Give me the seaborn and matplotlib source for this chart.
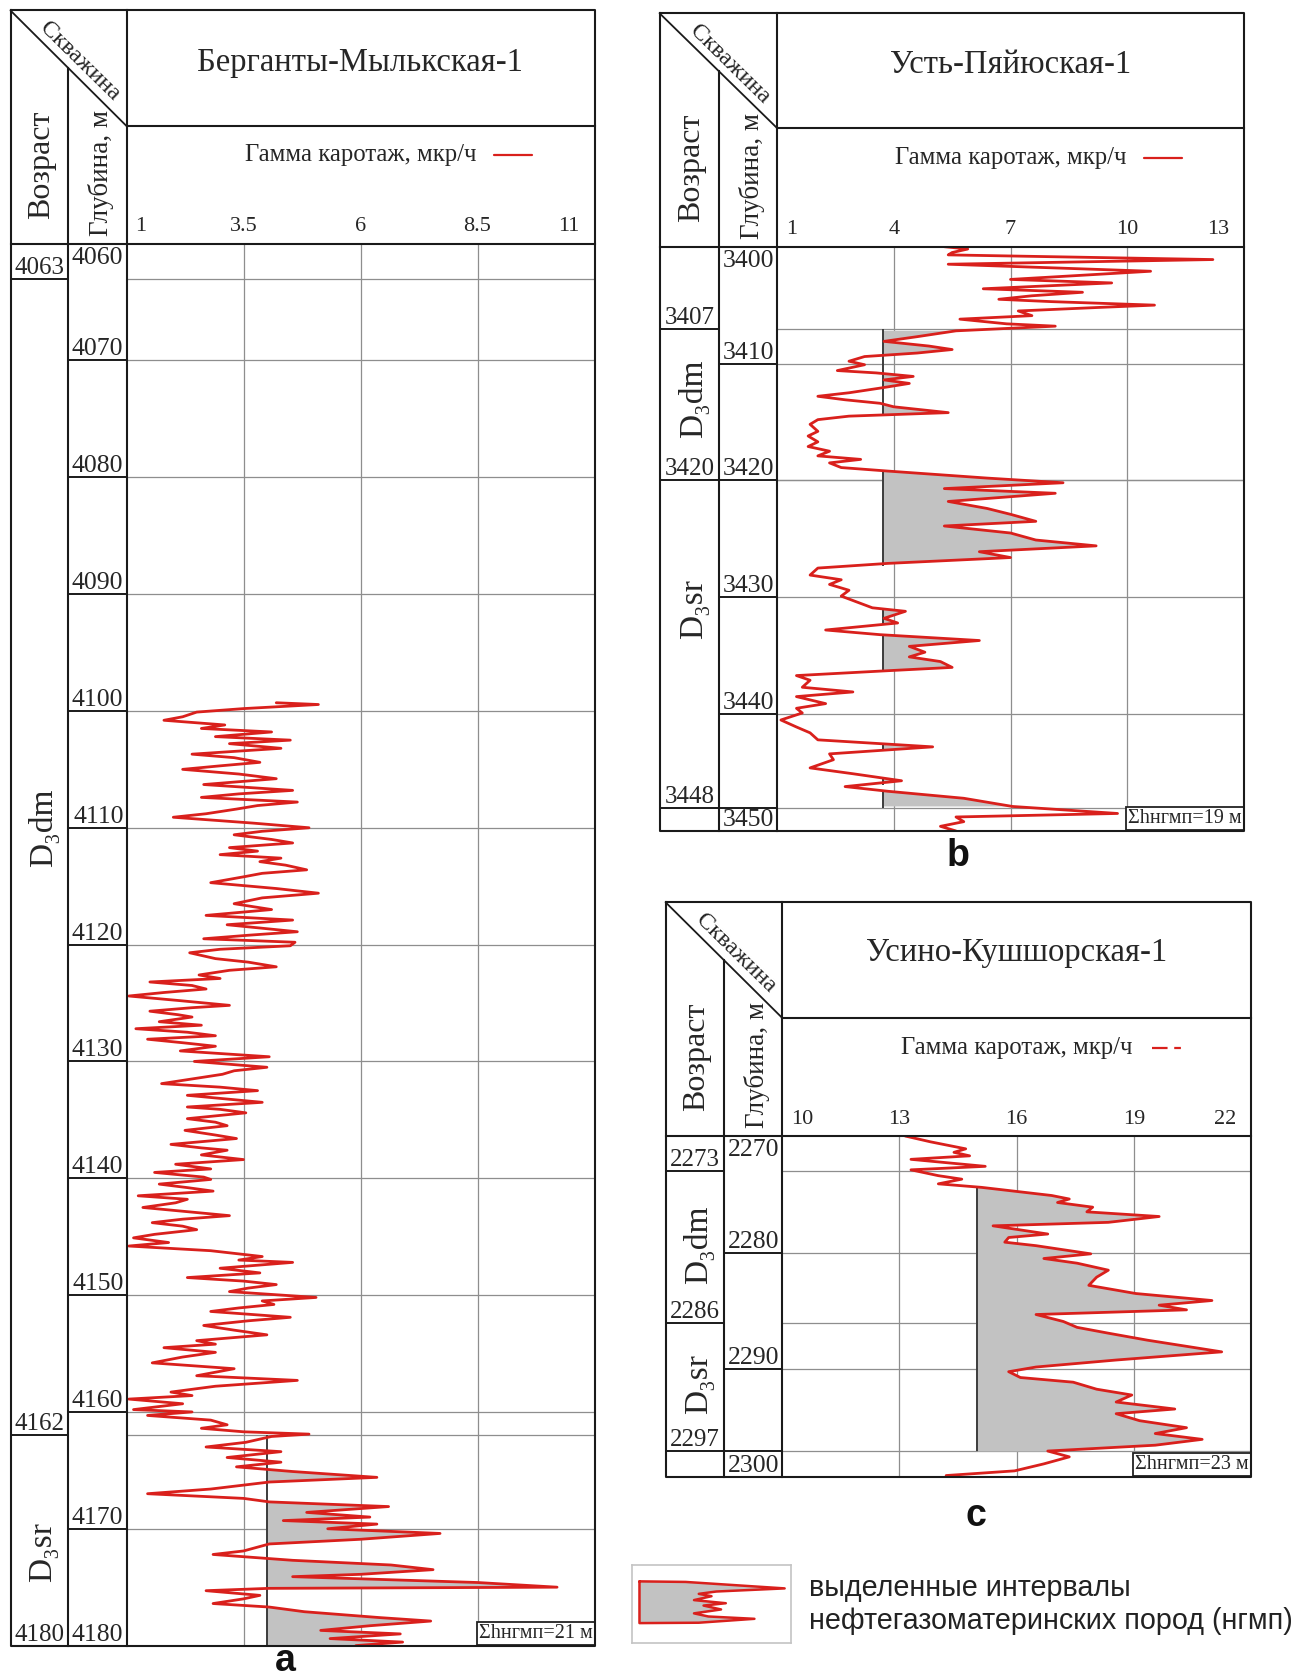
import numpy as np
import pandas as pd
import matplotlib
matplotlib.use("Agg")
import matplotlib.pyplot as plt
import matplotlib.transforms as mtransforms
import seaborn as sns

sns.set_style("white")
plt.rcParams["font.family"] = ["Liberation Serif", "DejaVu Serif"]

# ---------------- data: panel a (Берганты-Мылькская-1) ----------------
a_depth = [4099.3, 4099.45, 4099.8, 4100.1, 4100.5, 4100.8, 4101.2, 4101.5, 4101.8, 4102.2,
           4102.5, 4102.8, 4103.2, 4103.7, 4104.0, 4104.4, 4104.7, 4105.0, 4105.4, 4105.8,
           4106.3, 4106.8, 4107.1, 4107.4, 4107.8, 4108.1, 4108.4, 4108.8, 4109.1, 4109.6,
           4110.0, 4110.3, 4110.6, 4111.0, 4111.3, 4111.7, 4112.0, 4112.3, 4112.6, 4112.9,
           4113.2, 4113.6, 4113.9, 4114.2, 4114.7, 4115.2, 4115.6, 4116.0, 4116.5, 4117.0,
           4117.5, 4117.9, 4118.3, 4118.9, 4119.2, 4119.5, 4119.8, 4120.1, 4120.4, 4120.7,
           4121.2, 4121.5, 4121.9, 4122.2, 4122.6, 4122.9, 4123.2, 4123.5, 4123.8, 4124.1,
           4124.4, 4124.8, 4125.2, 4125.4, 4125.7, 4126.0, 4126.2, 4126.6, 4126.9, 4127.2,
           4127.5, 4127.8, 4128.1, 4128.4, 4128.7, 4129.1, 4129.6, 4130.0, 4130.5, 4130.8,
           4131.1, 4131.5, 4131.9, 4132.2, 4132.5, 4132.9, 4133.2, 4133.5, 4133.9, 4134.1,
           4134.4, 4134.9, 4135.2, 4135.5, 4135.9, 4136.3, 4136.6, 4137.1, 4137.4, 4137.6,
           4138.0, 4138.4, 4138.8, 4139.2, 4139.5, 4139.9, 4140.1, 4140.5, 4140.8, 4141.1,
           4141.5, 4141.8, 4142.1, 4142.5, 4142.9, 4143.2, 4143.5, 4143.8, 4144.1, 4144.4,
           4144.8, 4145.1, 4145.5, 4145.8, 4146.2, 4146.7, 4147.0, 4147.2, 4147.7, 4148.1,
           4148.5, 4148.8, 4149.1, 4149.4, 4149.7, 4150.2, 4150.5, 4150.8, 4151.1, 4151.4,
           4151.9, 4152.2, 4152.6, 4153.0, 4153.4, 4153.9, 4154.2, 4154.5, 4154.9, 4155.3,
           4155.8, 4156.3, 4156.6, 4156.9, 4157.3, 4157.8, 4158.3, 4158.6, 4158.9, 4159.3,
           4159.8, 4160.0, 4160.3, 4160.7, 4161.1, 4161.4, 4161.7, 4161.9, 4162.1, 4162.6,
           4163.0, 4163.4, 4163.9, 4164.3, 4164.7, 4165.1, 4165.6, 4166.0, 4166.6, 4167.0,
           4167.4, 4167.7, 4168.1, 4168.6, 4169.0, 4169.3, 4169.6, 4170.0, 4170.4, 4170.9,
           4171.3, 4171.9, 4172.2, 4172.7, 4173.1, 4173.5, 4173.9, 4174.1, 4174.6, 4175.0,
           4175.1, 4175.3, 4175.7, 4176.0, 4176.4, 4176.7, 4177.1, 4177.6, 4177.9, 4178.3,
           4178.7, 4179.0, 4179.4, 4179.7, 4180.0]
a_gamma = [4.2, 5.1, 3.5, 2.5, 2.2, 1.8, 3.1, 2.6, 4.1, 2.9,
           4.5, 3.2, 4.3, 2.4, 3.3, 3.85, 3.0, 2.2, 3.4, 4.2,
           2.65, 4.55, 3.4, 2.6, 4.65, 3.8, 3.35, 2.7, 2.0, 3.7,
           4.9, 3.9, 3.3, 4.1, 4.55, 3.2, 3.8, 3.0, 4.3, 3.85,
           4.4, 4.85, 3.9, 3.5, 2.8, 4.2, 5.1, 3.9, 3.3, 4.1,
           2.7, 4.55, 3.15, 4.65, 3.6, 2.65, 4.6, 4.5, 3.0, 2.35,
           2.9, 3.6, 4.2, 3.2, 2.55, 3.0, 1.5, 2.4, 2.7, 1.8,
           1.05, 2.15, 3.2, 2.4, 1.5, 2.1, 2.4, 1.7, 2.6, 1.2,
           2.3, 2.9, 1.45, 2.2, 2.9, 2.15, 4.05, 2.45, 4.0, 3.3,
           3.05, 2.4, 1.75, 3.0, 3.8, 2.3, 3.1, 3.9, 2.3, 3.0,
           3.55, 2.3, 2.9, 3.15, 2.25, 2.9, 3.35, 1.95, 2.6, 3.15,
           2.6, 3.5, 2.05, 2.8, 1.6, 2.65, 2.8, 1.7, 2.3, 2.85,
           1.25, 2.3, 2.05, 1.35, 2.4, 3.2, 2.2, 1.55, 2.2, 2.5,
           1.6, 1.15, 1.9, 1.05, 2.8, 3.9, 3.4, 4.55, 3.0, 3.85,
           2.3, 3.5, 4.2, 3.6, 3.2, 5.05, 3.9, 4.15, 3.4, 2.8,
           4.5, 3.6, 2.65, 3.3, 4.0, 2.5, 2.9, 1.8, 2.9, 2.2,
           1.55, 3.3, 2.9, 2.5, 4.65, 2.9, 1.95, 2.4, 1.05, 2.2,
           1.15, 2.4, 1.45, 2.8, 3.15, 2.6, 3.5, 4.9, 4.1, 3.55,
           2.7, 4.3, 3.15, 4.3, 3.35, 4.55, 6.35, 4.05, 2.8, 1.45,
           3.5, 4.05, 6.6, 4.85, 6.2, 4.35, 6.35, 5.3, 7.7, 6.0,
           4.05, 3.5, 2.85, 4.55, 6.65, 7.55, 6.0, 4.55, 8.5, 10.2,
           4.05, 2.7, 3.85, 3.5, 2.85, 4.05, 4.8, 6.4, 7.5, 6.2,
           5.15, 6.85, 5.35, 6.9, 5.9]

# ---------------- data: panel b (Усть-Пяйюская-1) ----------------
b_depth = [3400.0, 3400.2, 3400.5, 3400.7, 3401.1, 3401.5, 3402.1, 3402.5, 3402.8, 3403.1,
           3403.6, 3403.9, 3404.2, 3404.5, 3404.7, 3405.0, 3405.2, 3405.5, 3405.9, 3406.2,
           3406.6, 3406.8, 3407.2, 3407.7, 3408.1, 3408.5, 3408.8, 3409.1, 3409.4, 3409.8,
           3410.1, 3410.6, 3410.8, 3411.1, 3411.4, 3411.7, 3412.1, 3412.5, 3412.8, 3413.1,
           3413.4, 3413.7, 3414.2, 3414.5, 3414.8, 3415.2, 3415.8, 3416.2, 3416.7, 3417.1,
           3417.5, 3417.9, 3418.2, 3418.5, 3418.9, 3419.2, 3419.8, 3420.2, 3420.7, 3421.1,
           3421.8, 3422.4, 3422.9, 3423.5, 3423.9, 3424.5, 3425.1, 3425.6, 3426.1, 3426.6,
           3427.1, 3427.5, 3428.1, 3428.5, 3428.9, 3429.4, 3429.9, 3430.4, 3430.9, 3431.2,
           3431.8, 3432.2, 3432.8, 3433.2, 3433.7, 3434.2, 3434.7, 3435.1, 3435.5, 3436.0,
           3436.3, 3436.7, 3437.1, 3437.7, 3438.1, 3438.5, 3439.1, 3439.5, 3439.9, 3440.5,
           3441.1, 3441.6, 3442.2, 3442.8, 3443.4, 3443.9, 3444.6, 3445.1, 3445.7, 3446.2,
           3446.6, 3447.2, 3447.9, 3448.5, 3448.8, 3449.2, 3449.6, 3450.0]
b_gamma = [5.3, 5.9, 5.5, 5.4, 12.2, 5.4, 10.6, 8.55, 7.0, 9.6,
           6.3, 8.85, 7.55, 6.7, 8.05, 10.7, 9.25, 7.2, 7.55, 5.7,
           6.9, 8.15, 5.6, 4.6, 3.75, 4.9, 5.5, 4.6, 3.25, 2.85,
           3.25, 2.55, 3.55, 4.5, 3.75, 4.4, 3.65, 2.85, 2.05, 2.75,
           3.65, 4.0, 5.4, 2.85, 2.05, 1.85, 2.05, 1.8, 2.05, 1.8,
           2.35, 2.05, 3.15, 2.35, 2.65, 3.85, 6.4, 8.35, 5.3, 8.15,
           5.4, 6.4, 7.0, 7.65, 5.3, 7.0, 7.65, 9.2, 6.2, 7.0,
           3.85, 2.05, 1.85, 2.65, 2.35, 2.85, 2.65, 3.05, 3.45, 4.3,
           3.75, 4.1, 2.25, 3.65, 6.2, 4.4, 4.8, 4.4, 5.2, 5.5,
           3.75, 1.5, 1.85, 1.65, 2.95, 1.5, 2.25, 1.5, 1.65, 1.1,
           1.5, 1.85, 2.05, 5.0, 2.35, 2.45, 1.85, 2.95, 4.2, 2.75,
           3.85, 5.8, 7.05, 9.75, 5.6, 5.8, 5.2, 5.6]

# ---------------- data: panel c (Усино-Кушшорская-1) ----------------
c_depth = [2270.0, 2270.5, 2271.1, 2271.4, 2271.7, 2272.0, 2272.6, 2272.9, 2273.4, 2273.7,
           2274.1, 2274.4, 2275.1, 2275.4, 2275.7, 2276.1, 2276.5, 2276.9, 2277.4, 2277.7,
           2278.1, 2278.4, 2278.7, 2279.1, 2279.4, 2280.1, 2280.5, 2280.9, 2281.5, 2282.1,
           2282.8, 2283.5, 2284.1, 2284.5, 2284.9, 2285.3, 2285.9, 2286.4, 2286.9, 2287.5,
           2288.5, 2289.2, 2289.8, 2290.2, 2290.7, 2291.1, 2291.7, 2292.2, 2292.8, 2293.4,
           2293.8, 2294.4, 2295.0, 2295.5, 2296.0, 2296.5, 2297.0, 2297.5, 2298.1, 2298.7,
           2299.1, 2299.4]
c_gamma = [13.15, 13.8, 14.7, 14.4, 14.8, 13.3, 15.2, 13.3, 14.0, 14.6,
           14.0, 15.1, 16.9, 17.35, 17.05, 17.95, 17.8, 19.65, 18.35, 15.4,
           16.2, 16.8, 15.8, 15.7, 16.5, 17.9, 16.7, 17.55, 18.35, 18.05,
           17.85, 19.05, 21.0, 19.65, 20.35, 16.5, 17.2, 17.55, 18.35, 19.35,
           21.25, 18.55, 16.5, 15.8, 16.1, 17.45, 18.05, 18.95, 18.55, 20.05,
           18.55, 19.15, 20.35, 19.55, 20.75, 19.55, 16.8, 17.35, 16.7, 15.95,
           14.2, 14.8]

# axis ranges, ticks, depth grid, age boundaries
a_xticks = [1, 3.5, 6, 8.5, 11]
a_xticklabels = ["1", "3.5", "6", "8.5", "11"]
a_ylim = (4180, 4060)
a_depth_ticks = [4060, 4070, 4080, 4090, 4100, 4110, 4120, 4130, 4140, 4150, 4160, 4170, 4180]
a_age_bounds = [4063, 4162]
a_age_labels = [4063, 4162, 4180]
a_units = [("D₃dm", 4110), ("D₃sr", 4172)]
a_threshold = 4.0
a_intervals = [(4162, 4180)]

b_xticks = [1, 4, 7, 10, 13]
b_xticklabels = ["1", "4", "7", "10", "13"]
b_ylim = (3450, 3400)
b_depth_ticks = [3400, 3410, 3420, 3430, 3440, 3450]
b_age_bounds = [3407, 3420, 3448]
b_age_labels = [3407, 3420, 3448]
b_units = [("D₃dm", 3413), ("D₃sr", 3431)]
b_threshold = 3.72
b_intervals = [(3407, 3414.5), (3419.2, 3427.3), (3431.0, 3432.3), (3433.3, 3436.3),
               (3442.5, 3443.0), (3445.4, 3446.1), (3446.5, 3448)]

c_xticks = [10, 13, 16, 19, 22]
c_xticklabels = ["10", "13", "16", "19", "22"]
c_ylim = (2299.2, 2270)
c_depth_ticks = [2270, 2280, 2290, 2300]
c_age_bounds = [2273, 2286, 2297]
c_age_labels = [2273, 2286, 2297]
c_units = [("D₃dm", 2279.3), ("D₃sr", 2291.3)]
c_threshold = 15.0
c_intervals = [(2274.4, 2297)]

# legend glyph
legend_t = [0.21, 0.217, 0.30, 0.34, 0.37, 0.40, 0.45, 0.49, 0.52, 0.57, 0.62, 0.66, 0.69, 0.74, 0.745]
legend_v = [0.047, 0.337, 0.96, 0.53, 0.42, 0.50, 0.39, 0.59, 0.45, 0.56, 0.39, 0.48, 0.77, 0.42, 0.047]

# ---------------- styling ----------------
RED = "#d9201c"
FILL = "#c2c2c2"
GRID = "#8e8e8e"
FRAME = "#1a1a1a"
SANS = ["Liberation Sans", "DejaVu Sans"]

W, H = 1309, 1676
fig = plt.figure(figsize=(W / 100, H / 100), dpi=100)
fig.patch.set_facecolor("white")


def px_axes(x0, y0, x1, y1, **kw):
    return fig.add_axes([x0 / W, 1 - y1 / H, (x1 - x0) / W, (y1 - y0) / H], **kw)


def off(tr, dx=0, dy=0):
    return mtransforms.offset_copy(tr, fig=fig, x=dx, y=dy, units="dots")


def clean(ax):
    ax.set_xticks([])
    ax.set_yticks([])
    ax.set_xlabel("")
    ax.set_ylabel("")
    for s in ax.spines.values():
        s.set_visible(False)
    ax.patch.set_alpha(0)


ov = fig.add_axes([0, 0, 1, 1])
ov.set_xlim(0, W)
ov.set_ylim(H, 0)
ov.axis("off")
ov.set_zorder(10)
ov.patch.set_alpha(0)


def draw_panel(geom, title, title_y, key_pos, key_dashed, depth, gamma, xticks, xticklabels,
               ylim, depth_ticks, age_bounds, age_labels, units, thr, intervals, sum_text,
               depth_extra_lines):
    L, C1, C2, R, T, H1, H2, B = geom
    ax = px_axes(C2, H2, R, B)
    age_ax = px_axes(L, H2, C1, B, sharey=ax)
    dep_ax = px_axes(C1, H2, C2, B, sharey=ax)

    d = np.asarray(depth, float)
    g = np.asarray(gamma, float)
    mask = np.zeros_like(d, dtype=bool)
    for lo, hi in intervals:
        mask |= (d >= lo) & (d <= hi)
    ax.fill_betweenx(d, thr, g, where=mask & (g > thr), interpolate=True,
                     color=FILL, lw=0, zorder=1)

    for v in xticks[1:-1]:
        ax.axvline(v, color=GRID, lw=0.9, zorder=0.5)
    for dd in depth_ticks[1:] + age_bounds:
        ax.axhline(dd, color=GRID, lw=0.9, zorder=0.5)

    for lo, hi in intervals:
        ax.vlines(thr, lo, hi, color="#3c3c3c", lw=1.4, zorder=2)

    df = pd.DataFrame({"depth": d, "gamma": g})
    sns.lineplot(data=df, x="gamma", y="depth", sort=False, estimator=None, orient="y",
                 color=RED, lw=2.0, ax=ax, zorder=3)
    ax.set_xlim(xticks[0], xticks[-1])
    ax.set_ylim(*ylim)
    for a in (ax, age_ax, dep_ax):
        clean(a)
    age_ax.set_xlim(0, 1)
    dep_ax.set_xlim(0, 1)

    # tick labels above the plot area
    bt = mtransforms.blended_transform_factory(ax.transData, ax.transAxes)
    for i, (v, lab) in enumerate(zip(xticks, xticklabels)):
        if i == 0:
            ax.text(v, 1, lab, transform=off(bt, 9, 17), ha="left", va="center", fontsize=16)
        elif i == len(xticks) - 1:
            ax.text(v, 1, lab, transform=off(bt, -15, 17), ha="right", va="center", fontsize=16)
        else:
            ax.text(v, 1, lab, transform=off(bt, 0, 17), ha="center", va="center", fontsize=16)

    # depth column
    dt = mtransforms.blended_transform_factory(dep_ax.transAxes, dep_ax.transData)
    for dd in depth_ticks[1:-1] + depth_extra_lines:
        dep_ax.axhline(dd, color=FRAME, lw=1.4)
    for i, dd in enumerate(depth_ticks):
        if i == 0:
            dep_ax.text(1, dd, str(dd), transform=off(dt, -3, -3), ha="right", va="top", fontsize=18.5)
        else:
            yy = min(dd, ylim[0])
            dep_ax.text(1, yy, str(dd), transform=off(dt, -3, 0), ha="right", va="bottom", fontsize=18.5)

    # age column
    at = mtransforms.blended_transform_factory(age_ax.transAxes, age_ax.transData)
    for dd in age_bounds:
        age_ax.axhline(dd, color=FRAME, lw=1.4)
    for dd in age_labels:
        age_ax.text(0.5, dd, str(dd), transform=at, ha="center", va="bottom", fontsize=18)
    for name, yy in units:
        age_ax.text(0.57, yy, name, transform=at, rotation=90, ha="center", va="center",
                    fontsize=24)

    # sum box
    ax.text(1, 0, sum_text, transform=off(ax.transAxes, -2, 3), ha="right", va="bottom",
            fontsize=14.5, zorder=6,
            bbox=dict(boxstyle="square,pad=0.1", fc="white", ec="#222222", lw=1.3))

    # header frame
    kw = dict(color=FRAME, lw=1.5, solid_capstyle="projecting")
    ov.plot([L, R, R, L, L], [T, T, B, B, T], **kw)
    ov.plot([C2, C2], [T, B], **kw)
    yd = T + (C1 - L) * (H1 - T) / (C2 - L)
    ov.plot([C1, C1], [yd, B], **kw)
    ov.plot([C2, R], [H1, H1], **kw)
    ov.plot([L, R], [H2, H2], **kw)
    ov.plot([L, C2], [T, H1], color=FRAME, lw=1.3)

    ov.text((C2 + R) / 2, title_y, title, ha="center", va="center", fontsize=23.5)
    kx, ky, kx0, kx1 = key_pos
    ov.text(kx, ky, "Гамма каротаж, мкр/ч", ha="left", va="center", fontsize=17.8)
    ov.plot([kx0, kx1], [ky, ky], color=RED, lw=1.6,
            linestyle=(0, (7, 3, 3, 3)) if key_dashed else "-")
    ov.text((L + C1) / 2 + 2, T + (H2 - T) * 0.66, "Возраст", rotation=90, ha="center",
            va="center", fontsize=23)
    ov.text((C1 + C2) / 2 + 4, T + (H2 - T) * 0.695, "Глубина, м", rotation=90, ha="center",
            va="center", fontsize=19.5)
    cx = L + (C2 - L) * 0.6
    cy = T + (H1 - T) * 0.6 - 18
    ov.text(cx, cy, "Скважина", rotation=-44.5, rotation_mode="anchor",
            ha="center", va="center", fontsize=17.5)


draw_panel((10.5, 68, 126.5, 594.5, 10.5, 126, 243.6, 1645.6), "Берганты-Мылькская-1", 63,
           (245, 155, 494, 532), False, a_depth, a_gamma, a_xticks, a_xticklabels, a_ylim,
           a_depth_ticks, a_age_bounds, a_age_labels, a_units, a_threshold, a_intervals,
           "Σhнгмп=21 м", [])
draw_panel((659.6, 719, 777, 1244, 13.3, 128, 246.7, 831), "Усть-Пяйюская-1", 65,
           (895, 158, 1144, 1182), False, b_depth, b_gamma, b_xticks, b_xticklabels, b_ylim,
           b_depth_ticks, b_age_bounds, b_age_labels, b_units, b_threshold, b_intervals,
           "Σhнгмп=19 м", [3448])
draw_panel((665.6, 724, 782, 1251, 902.3, 1017.7, 1136, 1476.7), "Усино-Кушшорская-1", 953,
           (901, 1048, 1152, 1187), True, c_depth, c_gamma, c_xticks, c_xticklabels, c_ylim,
           c_depth_ticks, c_age_bounds, c_age_labels, c_units, c_threshold, c_intervals,
           "Σhнгмп=23 м", [2297])

# panel letters
for lab, x, y in [("a", 285, 1661), ("b", 958, 856), ("c", 976, 1516)]:
    ov.text(x, y, lab, ha="center", va="center", fontsize=27, fontweight="bold",
            family=SANS, color="#111111")

# legend
lg = px_axes(632, 1565, 791, 1643)
lg.set_xlim(0, 1)
lg.set_ylim(1, 0)
lg.set_xticks([])
lg.set_yticks([])
for s in lg.spines.values():
    s.set_color("#c4c4c4")
    s.set_linewidth(1.2)
lg.fill_betweenx(legend_t, legend_v[0], legend_v, color=FILL, lw=0)
lg.plot(legend_v + [legend_v[0]], legend_t + [legend_t[0]], color=RED, lw=1.8)
ov.text(809, 1588, "выделенные интервалы", ha="left", va="center", fontsize=20.7,
        family=SANS, color="#222222")
ov.text(809, 1621, "нефтегазоматеринских пород (нгмп)", ha="left", va="center", fontsize=20.7,
        family=SANS, color="#222222")

fig.savefig("out.png", dpi=100, facecolor="white")
